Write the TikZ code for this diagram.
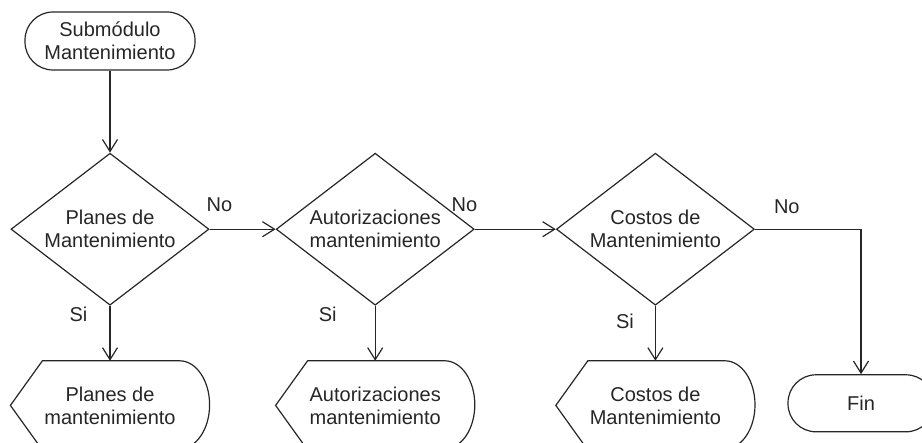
\documentclass[tikz,border=0pt]{standalone}
\usepackage{fontspec}
\setmainfont{Liberation Sans}
\usetikzlibrary{
  arrows.meta,
  positioning,
  shapes.geometric
}
\newcommand{\flowfont}{\fontsize{20}{23}\selectfont}
\definecolor{inkgray}{RGB}{38,38,38}
\tikzset{
  flowbox/.style={
    draw=inkgray,
    line width=1.2pt,
    text=inkgray,
    align=center,
    inner sep=0pt,
    font=\flowfont
  },
  termbox/.style={flowbox,rectangle,rounded corners=28pt},
  decision/.style={flowbox,diamond,aspect=1.3,minimum width=198pt,minimum height=152pt},
  showbox/.style={flowbox,draw=none,rectangle,minimum width=198pt,minimum height=88pt},
  flowarrow/.style={draw=inkgray,line width=1.2pt,-{Straight Barb[length=12pt,width=15pt]}},
  answer/.style={text=inkgray,font=\flowfont,inner sep=0pt}
}

\begin{document}
\begin{tikzpicture}[x=1pt,y=-1pt]
  \useasboundingbox (0,0) rectangle (922,443);
  \node[termbox,minimum width=170pt,minimum height=58pt] (start) at (110,41) {Submódulo\\Mantenimiento};
  \node[decision,below=82pt of start] (plan) {Planes de\\Mantenimiento};
  \node[decision,right=66pt of plan] (aut) {Autorizaciones\\mantenimiento};
  \node[decision,right=81pt of aut] (cost) {Costos de\\Mantenimiento};
  \node[showbox,below=55pt of plan] (planout) {Planes de\\mantenimiento};
  \node[showbox,below=55pt of aut] (autout) {Autorizaciones\\mantenimiento};
  \node[showbox,below=55pt of cost] (costout) {Costos de\\Mantenimiento};
  \coordinate[right=106pt of cost.east] (turn);
  \node[termbox,minimum width=146pt,minimum height=57pt,below=145pt of turn] (fin) {Fin};

  % display outlines: pointed left end, curved right end
  \foreach \n in {planout,autout,costout}
    \draw[draw=inkgray,line width=1.2pt]
      (\n.west) -- ([xshift=32pt]\n.north west) -- ([xshift=-30pt]\n.north east)
      arc[start angle=90,end angle=-90,x radius=30pt,y radius=44pt]
      -- ([xshift=32pt]\n.south west) -- cycle;

  \draw[flowarrow] (start) -- (plan);
  \draw[flowarrow] (plan) -- node[answer,pos=0.15,above=17pt] {No} (aut);
  \draw[flowarrow] (aut) -- node[answer,pos=0,above left=17pt and -3pt] {No} (cost);
  \draw[flowarrow] (cost.east) -| node[answer,pos=0.15,above=15pt] {No} (fin);
  \draw[flowarrow] (plan) -- node[answer,pos=0.16,left=22pt] {Si} (planout);
  \draw[flowarrow] (aut) -- node[answer,pos=0.16,left=38pt] {Si} (autout);
  \draw[flowarrow] (cost) -- node[answer,pos=0.29,left=21pt] {Si} (costout);
\end{tikzpicture}
\end{document}
